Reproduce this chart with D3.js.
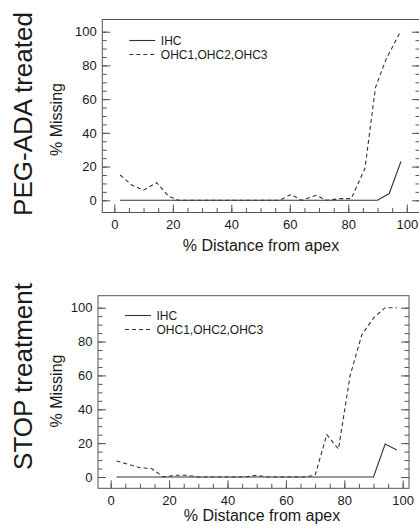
<!DOCTYPE html>
<html><head><meta charset="utf-8">
<script src="https://cdn.jsdelivr.net/npm/d3@7"></script>
<style>
body{margin:0;background:#fff}
svg{display:block}
text{font-family:"Liberation Sans",Arial,sans-serif;fill:#1a1a1a}
</style>
</head><body>
<svg id="c" width="419" height="531"></svg>
<script>
// ---------- data ----------
const panelTitles = ["PEG-ADA treated", "STOP treatment"];
const seriesNames = ["IHC", "OHC1,OHC2,OHC3"];
const xTickLabels = [0, 20, 40, 60, 80, 100];
const yTickLabels = [0, 20, 40, 60, 80, 100];
const xLabel = "% Distance from apex";
const yLabel = "% Missing";

const pegIHC_x = [2, 6, 10, 14, 18, 22, 26, 30, 34, 38, 42, 46, 50, 54, 58, 62, 66, 70, 74, 78, 82, 86, 90, 94, 98];
const pegIHC_y = [0, 0, 0, 0, 0, 0, 0, 0, 0, 0, 0, 0, 0, 0, 0, 0, 0, 0, 0, 0, 0, 0, 0, 4, 23];
const pegOHC_x = [2, 6, 10, 14.5, 18.5, 22, 26, 30, 34, 38, 42, 46, 50, 56.5, 60.5, 64, 69, 72.5, 77.5, 81, 85.7, 89.3, 93, 97.5];
const pegOHC_y = [15, 9, 6, 10.5, 2.5, 0, 0, 0, 0, 0, 0, 0, 0, 0, 3.5, 0, 3, 0, 1, 1, 19, 67, 84, 99];

const stopIHC_x = [2, 6, 10, 14, 18, 22, 26, 30, 34, 38, 42, 46, 50, 54, 58, 62, 66, 70, 74, 78, 82, 86, 90, 94, 98];
const stopIHC_y = [0, 0, 0, 0, 0, 0, 0, 0, 0, 0, 0, 0, 0, 0, 0, 0, 0, 0, 0, 0, 0, 0, 0, 19.5, 16];
const stopOHC_x = [2, 6, 10, 14, 18, 22, 26, 30, 34, 38, 42, 46, 50, 54, 58, 62, 66, 70, 74, 78, 82, 86, 90, 94, 98];
const stopOHC_y = [9.5, 7.5, 5.5, 5, 0, 1, 1, 0, 0, 0, 0, 0, 1, 0, 0, 0, 0, 1, 25, 16.5, 60, 84, 94, 100, 100];

// ---------- layout ----------
const panels = [
  {title: panelTitles[0], ihc: [pegIHC_x, pegIHC_y], ohc: [pegOHC_x, pegOHC_y],
   L: 102.3, R: 420, T: 19.5, B: 212.5, x0: 114.3, x100: 406.8, y0: 200.3, y100: 31.7,
   titleY: 114, missY: 119.5, axTitleX: 261, axTitleY: 251, legY: 40.5},
  {title: panelTitles[1], ihc: [stopIHC_x, stopIHC_y], ohc: [stopOHC_x, stopOHC_y],
   L: 98, R: 409, T: 295.7, B: 488.3, x0: 110.7, x100: 402.7, y0: 477, y100: 307.7,
   titleY: 376.5, missY: 391, axTitleX: 262, axTitleY: 521, legY: 315.5}
];

const svg = d3.select("#c");
const lineCol = "#333", frameCol = "#555";

panels.forEach(p => {
  const x = d3.scaleLinear().domain([0, 100]).range([p.x0, p.x100]);
  const y = d3.scaleLinear().domain([0, 100]).range([p.y0, p.y100]);
  const g = svg.append("g");

  // frame
  g.append("rect").attr("x", p.L).attr("y", p.T)
    .attr("width", p.R - p.L).attr("height", p.B - p.T)
    .attr("fill", "none").attr("stroke", frameCol).attr("stroke-width", 1);

  const minor = d3.range(0, 101, 5);
  const styleAxis = sel => {
    sel.select(".domain").remove();
    sel.selectAll("line").attr("stroke", frameCol);
    sel.selectAll("text").attr("font-size", 13).attr("fill", "#1a1a1a")
      .style("font-family", '"Liberation Sans",Arial,sans-serif');
  };

  // bottom axis
  g.append("g").attr("transform", `translate(0,${p.B})`)
    .call(d3.axisBottom(x).tickValues(minor).tickSize(-4.5).tickFormat(""))
    .call(styleAxis);
  g.append("g").attr("transform", `translate(0,${p.B})`)
    .call(d3.axisBottom(x).tickValues(xTickLabels).tickSize(-8).tickPadding(7).tickFormat(d3.format("d")))
    .call(styleAxis);

  // left axis
  g.append("g").attr("transform", `translate(${p.L},0)`)
    .call(d3.axisLeft(y).tickValues(minor).tickSize(-4.5).tickFormat(""))
    .call(styleAxis);
  g.append("g").attr("transform", `translate(${p.L},0)`)
    .call(d3.axisLeft(y).tickValues(yTickLabels).tickSize(-8).tickPadding(5.5).tickFormat(d3.format("d")))
    .call(styleAxis);

  // right axis
  g.append("g").attr("transform", `translate(${p.R},0)`)
    .call(d3.axisRight(y).tickValues(minor).tickSize(-4.5).tickFormat(""))
    .call(styleAxis);
  g.append("g").attr("transform", `translate(${p.R},0)`)
    .call(d3.axisRight(y).tickValues(yTickLabels).tickSize(-8).tickFormat(""))
    .call(styleAxis);

  // lines
  const line = d3.line().x(d => x(d[0])).y(d => y(d[1]));
  const ihcData = p.ihc[0].map((v, i) => [v, p.ihc[1][i]]);
  const ohcData = p.ohc[0].map((v, i) => [v, p.ohc[1][i]]);
  g.append("path").datum(ohcData).attr("d", line)
    .attr("fill", "none").attr("stroke", lineCol).attr("stroke-width", 1.1)
    .attr("stroke-dasharray", "4,3");
  g.append("path").datum(ihcData).attr("d", line)
    .attr("fill", "none").attr("stroke", lineCol).attr("stroke-width", 1.1);

  // legend
  const lx = p.L + 27, lw = 26, tx = p.L + 58.5;
  [0, 1].forEach(i => {
    const ly = p.legY + i * 14;
    g.append("line").attr("x1", lx).attr("x2", lx + lw).attr("y1", ly).attr("y2", ly)
      .attr("stroke", lineCol).attr("stroke-width", 1.1)
      .attr("stroke-dasharray", i === 1 ? "4,3" : null);
    g.append("text").attr("x", tx).attr("y", ly).attr("dy", "0.35em")
      .attr("font-size", 12).text(seriesNames[i]);
  });

  // axis titles
  g.append("text").attr("x", p.axTitleX).attr("y", p.axTitleY)
    .attr("text-anchor", "middle").attr("font-size", 16).text(xLabel);
  g.append("text").attr("transform", `translate(62,${p.missY}) rotate(-90)`)
    .attr("text-anchor", "middle").attr("font-size", 16).text(yLabel);

  // panel title
  g.append("text").attr("transform", `translate(32,${p.titleY}) rotate(-90)`)
    .attr("text-anchor", "middle").attr("font-size", 26).text(p.title);
});
</script>
</body></html>
